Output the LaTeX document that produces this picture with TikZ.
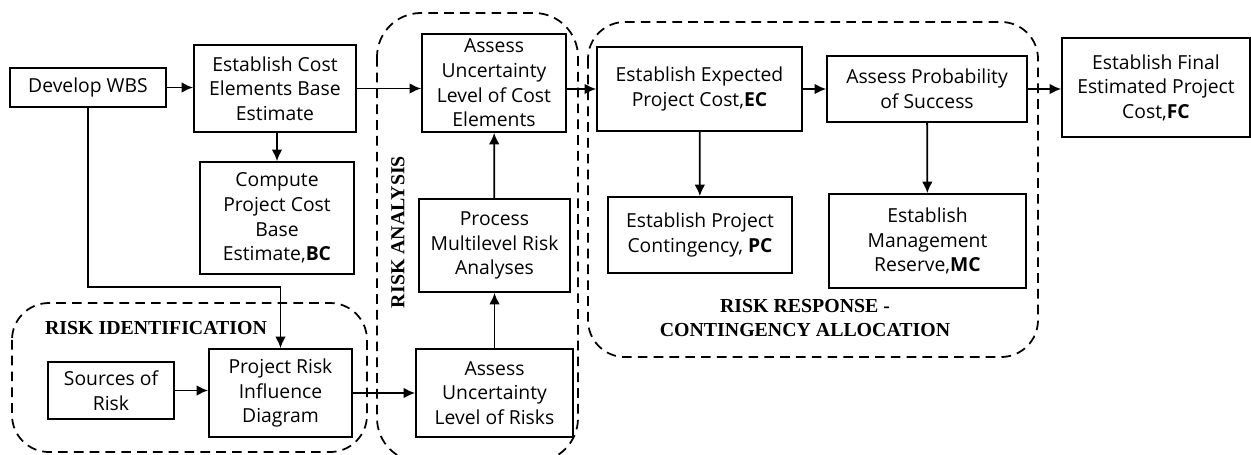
\documentclass[tikz,border=0pt]{standalone}
\usepackage{fontspec}
\setmainfont{Open Sans}
\newfontfamily\titlefont{Liberation Serif}
\usetikzlibrary{arrows.meta,positioning}

\begin{document}
\begin{tikzpicture}[x=0.02cm,y=-0.02cm,
    box/.style={draw,line width=1pt,align=center,inner sep=2pt,
                font=\fontsize{11}{14}\selectfont},
    conn/.style={line width=1pt,-{Latex[length=6.5pt,width=6pt]}},
    zone/.style={line width=1pt,dash pattern=on 5.5pt off 3.5pt},
    zonelabel/.style={font=\titlefont\bfseries\fontsize{11.3}{13.5}\selectfont,align=center}]
    \useasboundingbox (0,0) rectangle (1251,454);
    % dashed zones
    \draw [zone,rounded corners=21pt] (12,303) rectangle (367,452);
    \draw [zone,rounded corners=25pt] (377,13) rectangle (578,462);
    \draw [zone,rounded corners=21pt] (588,22) rectangle (1038,357);
    \node [zonelabel] (lblid) at (156,328) {RISK IDENTIFICATION};
    \node [zonelabel,rotate=90] (lblana) at (398,232) {RISK ANALYSIS};
    \node [zonelabel] (lblresp) at (805,318) {RISK RESPONSE -\\CONTINGENCY ALLOCATION};
    % boxes
    \node [box,minimum width=3.12cm,minimum height=0.78cm] (wbs) at (88,87.5) {Develop WBS};
    \node [box,minimum width=3.24cm,minimum height=1.74cm] (base) at (275,88.5) {Establish Cost\\Elements Base\\Estimate};
    \node [box,minimum width=3.08cm,minimum height=2.24cm] (bc) at (277,218) {Compute\\Project Cost\\Base\\Estimate,\textbf{BC}};
    \node [box,minimum width=2.52cm,minimum height=1.14cm] (src) at (111,390.5) {Sources of\\Risk};
    \node [box,minimum width=2.86cm,minimum height=1.76cm] (infl) at (280.5,393) {Project Risk\\Influence\\Diagram};
    \node [box,minimum width=2.88cm,minimum height=1.96cm] (ucost) at (494,83) {Assess\\Uncertainty\\Level of Cost\\Elements};
    \node [box,minimum width=3.02cm,minimum height=1.86cm] (multi) at (494.5,245.5) {Process\\Multilevel Risk\\Analyses};
    \node [box,minimum width=3.14cm,minimum height=1.76cm] (urisk) at (494.5,393) {Assess\\Uncertainty\\Level of Risks};
    \node [box,minimum width=4.10cm,minimum height=1.68cm] (ec) at (699.5,89) {Establish Expected\\Project Cost,\textbf{EC}};
    \node [box,minimum width=4.00cm,minimum height=1.32cm] (aps) at (927,89) {Assess Probability\\of Success};
    \node [box,minimum width=3.68cm,minimum height=1.52cm] (pc) at (700,235) {Establish Project\\Contingency, \textbf{PC}};
    \node [box,minimum width=3.94cm,minimum height=1.88cm] (mc) at (927.5,241) {Establish\\Management\\Reserve,\textbf{MC}};
    \node [box,minimum width=3.76cm,minimum height=1.98cm] (fc) at (1156,87.5) {Establish Final\\Estimated Project\\Cost,\textbf{FC}};
    % connectors
    \coordinate (bend) at (280.5,287);
    \draw [conn] (wbs.east) -- (wbs.east -| base.west);
    \draw [conn] (base.south -| bc.north) -- (bc.north);
    \draw [conn] (base.east) -- (base.east -| ucost.west);
    \draw [line width=1pt] (wbs.south) |- (bend);
    \draw [conn] (bend) -- (infl.north);
    \draw [conn] (src.east) -- (src.east -| infl.west);
    \draw [conn] (infl) -- (urisk);
    \draw [conn] (urisk) -- (multi);
    \draw [conn] (multi) -- (ucost);
    \draw [conn] (ec.west -| ucost.east) -- (ec.west);
    \draw [conn] (ec) -- (aps);
    \draw [conn] (ec) -- (pc);
    \draw [conn] (aps) -- (mc);
    \draw [conn] (aps.east) -- (aps.east -| fc.west);
\end{tikzpicture}
\end{document}
